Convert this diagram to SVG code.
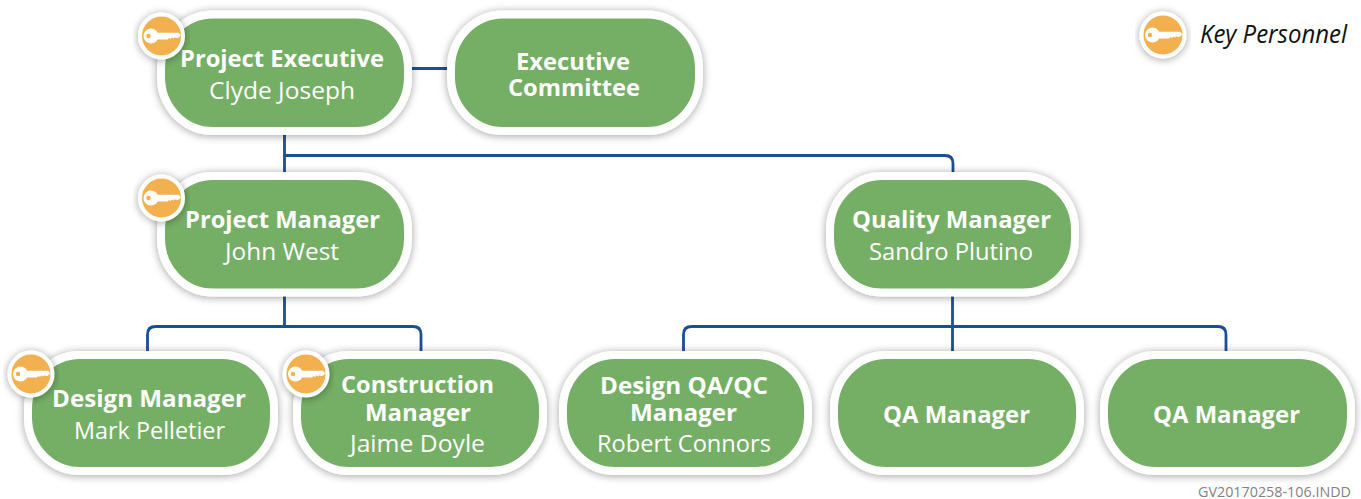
<svg xmlns="http://www.w3.org/2000/svg" xmlns:xlink="http://www.w3.org/1999/xlink" width="1361" height="499" viewBox="0 0 1361 499">
<style>
text{font-family:"Open Sans","Noto Sans","Liberation Sans",sans-serif;fill:#fff}
.t{font-weight:700;font-size:24px}
.n{font-weight:400;font-size:24px}
.box{fill:#75ae65;stroke:#fff;stroke-width:8}
.line{fill:none;stroke:#1c4e96;stroke-width:2.8}
.ring{fill:#f2b04f;stroke:#fff;stroke-width:4}
.keyglyph{fill:#fff}
.hole{fill:#f2b04f}
</style>
<defs>
<filter id="shadow" x="-15%" y="-25%" width="130%" height="150%">
<feGaussianBlur in="SourceAlpha" stdDeviation="4"/>
<feOffset dx="0" dy="1"/>
<feComponentTransfer><feFuncA type="linear" slope="0.38"/></feComponentTransfer>
<feMerge><feMergeNode/><feMergeNode in="SourceGraphic"/></feMerge>
</filter>
<g id="key">
<circle class="ring" r="21.500" filter="url(#shadow)"/>
<circle class="keyglyph" cx="-10.500" cy="0" r="7.500"/>
<path class="keyglyph" d="M-6-3.200H17L19.500-.6 16.500 2H14.800L13.500 1.200 12 2.600 10.600 1.600 9 3 7.500 2 6 3.400H-6Z"/>
<circle class="hole" cx="-13" cy="0" r="2.200"/>
</g>
</defs>
<rect width="1361" height="499" fill="#fff"/>
<g id="connectors">
<path class="line" d="M412 68.500H448"/>
<path class="line" d="M284.500 135V173M284.500 155.500H945Q953 155.500 953 163.500V173"/>
<path class="line" d="M284.500 296V326.500M147.500 352V334.500Q147.500 326.500 155.500 326.500H413Q421 326.500 421 334.500V352"/>
<path class="line" d="M952.500 296V352M683.500 352V334.500Q683.500 326.500 691.500 326.500H1218Q1226 326.500 1226 334.500V352"/>
</g>
<g id="project-executive" filter="url(#shadow)"><rect class="box" x="161" y="14.500" width="247" height="116.500" rx="52" ry="54"/></g>
<g id="executive-committee" filter="url(#shadow)"><rect class="box" x="451" y="14.500" width="248" height="116.500" rx="52" ry="54"/></g>
<g id="project-manager" filter="url(#shadow)"><rect class="box" x="161" y="176" width="247" height="116.500" rx="52" ry="54"/></g>
<g id="quality-manager" filter="url(#shadow)"><rect class="box" x="830" y="176" width="245" height="116.500" rx="52" ry="54"/></g>
<g id="design-manager" filter="url(#shadow)"><rect class="box" x="28" y="355" width="246" height="116" rx="52" ry="54"/></g>
<g id="construction-manager" filter="url(#shadow)"><rect class="box" x="297" y="355" width="246" height="116" rx="52" ry="54"/></g>
<g id="design-qa-qc-manager" filter="url(#shadow)"><rect class="box" x="563" y="355" width="245" height="116" rx="52" ry="54"/></g>
<g id="qa-manager-1" filter="url(#shadow)"><rect class="box" x="834" y="355" width="246" height="116" rx="52" ry="54"/></g>
<g id="qa-manager-2" filter="url(#shadow)"><rect class="box" x="1104" y="355" width="247" height="116" rx="52" ry="54"/></g>

<g id="project-executive-text"><text class="t" x="180" y="67" textLength="204" lengthAdjust="spacingAndGlyphs">Project Executive</text><text class="n" x="209" y="99" textLength="146" lengthAdjust="spacingAndGlyphs">Clyde Joseph</text></g>
<g id="executive-committee-text"><text class="t" x="516" y="70" textLength="114" lengthAdjust="spacingAndGlyphs">Executive</text><text class="t" x="508" y="96" textLength="132" lengthAdjust="spacingAndGlyphs">Committee</text></g>
<g id="project-manager-text"><text class="t" x="185" y="228" textLength="195" lengthAdjust="spacingAndGlyphs">Project Manager</text><text class="n" x="225" y="260" textLength="114" lengthAdjust="spacingAndGlyphs">John West</text></g>
<g id="quality-manager-text"><text class="t" x="852" y="228" textLength="199" lengthAdjust="spacingAndGlyphs">Quality Manager</text><text class="n" x="869" y="260" textLength="164" lengthAdjust="spacingAndGlyphs">Sandro Plutino</text></g>
<g id="design-manager-text"><text class="t" x="52" y="407" textLength="194" lengthAdjust="spacingAndGlyphs">Design Manager</text><text class="n" x="74" y="439" textLength="151" lengthAdjust="spacingAndGlyphs">Mark Pelletier</text></g>
<g id="construction-manager-text"><text class="t" x="341" y="393" textLength="153" lengthAdjust="spacingAndGlyphs">Construction</text><text class="t" x="365" y="421" textLength="106" lengthAdjust="spacingAndGlyphs">Manager</text><text class="n" x="350" y="452" textLength="135" lengthAdjust="spacingAndGlyphs">Jaime Doyle</text></g>
<g id="design-qa-qc-text"><text class="t" x="600" y="394" textLength="168" lengthAdjust="spacingAndGlyphs">Design QA/QC</text><text class="t" x="630" y="421" textLength="107" lengthAdjust="spacingAndGlyphs">Manager</text><text class="n" x="597" y="452" textLength="174" lengthAdjust="spacingAndGlyphs">Robert Connors</text></g>
<g id="qa-manager-1-text"><text class="t" x="883" y="423" textLength="147" lengthAdjust="spacingAndGlyphs">QA Manager</text></g>
<g id="qa-manager-2-text"><text class="t" x="1153" y="423" textLength="147" lengthAdjust="spacingAndGlyphs">QA Manager</text></g>

<g id="key-badges">
<use xlink:href="#key" href="#key" x="161.500" y="36"/>
<use xlink:href="#key" href="#key" x="161.500" y="198"/>
<use xlink:href="#key" href="#key" x="31" y="374"/>
<use xlink:href="#key" href="#key" x="306" y="374"/>
</g>
<g id="legend">
<use xlink:href="#key" href="#key" x="1163" y="35"/>
<text x="1200" y="43" font-size="25" font-style="italic" style="fill:#111" textLength="147" lengthAdjust="spacingAndGlyphs">Key Personnel</text>
</g>
<text id="file-ref" x="1198" y="497" font-size="14" style="fill:#808285" textLength="153" lengthAdjust="spacingAndGlyphs">GV20170258-106.INDD</text>
</svg>
